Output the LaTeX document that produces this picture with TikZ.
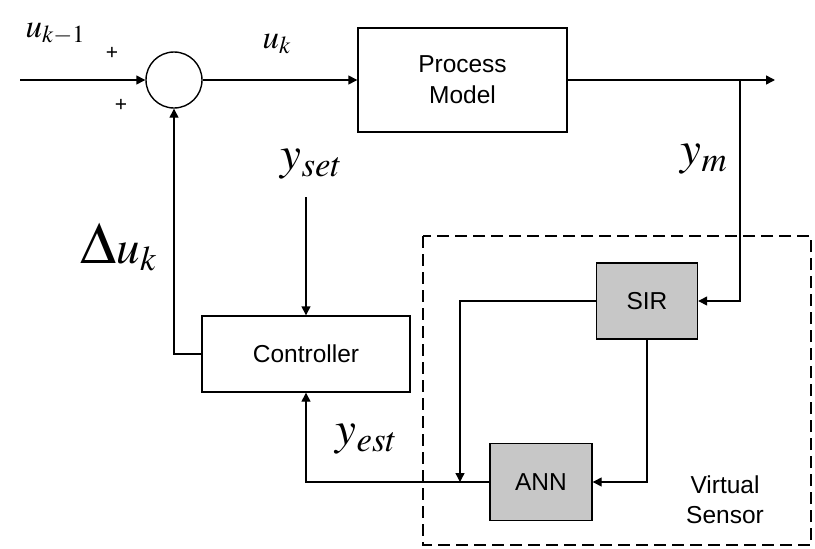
\documentclass[tikz,border=0pt]{standalone}
\usepackage{mathptmx}
\usepackage{fontspec}
\setmainfont{Liberation Sans}
\usetikzlibrary{arrows.meta, positioning}

\begin{document}
\begin{tikzpicture}[
      x=1pt, y=-1pt,
      line width=1.4pt,
      box/.style={rectangle, draw, line width=1.4pt, inner sep=0pt,
                  font=\fontsize{24.5}{31}\selectfont, align=center},
      blk/.style={box, fill=white},
      sub/.style={box, fill=black!22},
      sumnode/.style={circle, draw, minimum size=56pt, inner sep=0pt},
      arr/.style={-{Triangle[length=9pt,width=9pt]}},
      lbl/.style={inner sep=0pt, anchor=base west, font=\fontsize{47}{50}\selectfont},
      lblsm/.style={lbl, font=\fontsize{33}{36}\selectfont},
      sgn/.style={inner sep=0pt, font=\fontsize{21}{24}\selectfont},
      vsbox/.style={draw, line width=1.4pt, dash pattern=on 12pt off 6pt},
    ]
    \useasboundingbox (0,0) rectangle (815,549);

    % blocks
    \node[sumnode] (sum)  at (174,80) {};
    \node[blk, minimum width=209pt, minimum height=104pt] (proc) at (462.5,80) {Process\\Model};
    \node[blk, minimum width=208pt, minimum height=76pt]  (ctrl) at (306,354) {Controller};
    \node[sub, minimum width=101pt, minimum height=76pt]  (sir)  at (647,301) {SIR};
    \node[sub, minimum width=102pt, minimum height=77pt]  (ann)  at (541,482) {ANN};
    \draw[vsbox] (423,236) rectangle (811,545);
    \node[align=center, inner sep=0pt, font=\fontsize{24.5}{30}\selectfont] (vstext) at (725,500) {Virtual\\Sensor};

    % free ends
    \coordinate (in)   at (20,80);
    \coordinate (out)  at (775,80);
    \coordinate (tap)  at (740,80);
    \coordinate (join) at (460,482);
    \coordinate (ysrc) at (306,197);

    % labels
    \node[lblsm] (ukm1) at (25,37)  {$u_{k-1}$};
    \node[lblsm] (uk)   at (262,48) {$u_k$};
    \node[sgn]   (pa)   at (112,53) {+};
    \node[sgn]   (pb)   at (121,105) {+};
    \node[lbl]   (duk)  at (80,263) {$\scalebox{1.25}{$\Delta$}u_k$};
    \node[lbl]   (yset) at (280,169) {$y_{set}$};
    \node[lbl]   (ym)   at (680,164) {$y_m$};
    \node[lbl]   (yest) at (335,444) {$y_{est}$};

    % connectors
    \draw[arr] (in)       -- (sum);
    \draw[arr] (sum)      -- (proc);
    \draw[arr] (proc)     -- (out);
    \draw[arr] (tap)      |- (sir.east);
    \draw[arr] (sir.west) -| (join);
    \draw[arr] (sir.south) |- (ann.east);
    \draw[arr] (ann.west) -| (ctrl.south);
    \draw[arr] (ysrc)     -- (ctrl.north);
    \draw[arr] (ctrl.west) -| (sum.south);
\end{tikzpicture}
\end{document}
